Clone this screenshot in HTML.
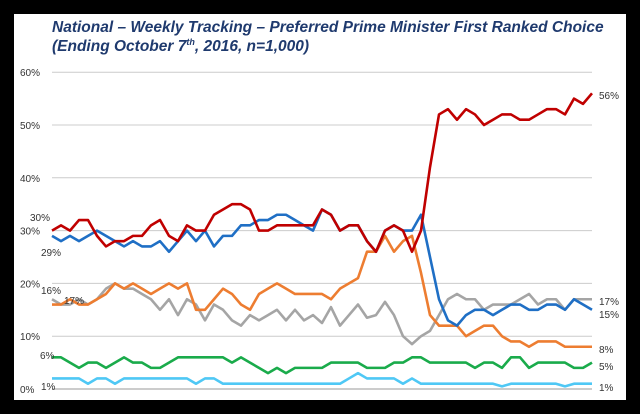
<!DOCTYPE html>
<html><head><meta charset="utf-8"><style>
body{margin:0;background:#000;width:640px;height:414px;overflow:hidden;font-family:"Liberation Sans",sans-serif}
#panel{position:absolute;left:14px;top:14px;width:612px;height:386px;background:#fff}
.title{position:absolute;left:38px;font-style:italic;font-weight:bold;color:#1f3a6e;font-size:15.5px;white-space:nowrap}
svg{position:absolute;left:0;top:0}
</style></head><body>
<div id="panel"></div>
<div class="title" style="left:52px;top:19px">National – Weekly Tracking – Preferred Prime Minister First Ranked Choice</div>
<div class="title" style="left:52px;top:37px">(Ending October 7<sup style="font-size:9px">th</sup>, 2016, n=1,000)</div>
<svg id="chart" width="640" height="414"></svg>
<script>
const ticks=[0,10,20,30,40,50,60];
const red=[30,31,30,32,32,29,27,28,28,29,29,31,32,29,28,31,30,30,33,34,35,35,34,30,30,31,31,31,31,31,34,33,30,31,31,28,26,30,31,30,26,30,42,52,53,51,53,52,50,51,52,52,51,51,52,53,53,52,55,54,56];
const blue=[29,28,29,28,29,30,29,28,27,28,27,27,28,26,28,30,28,30,27,29,29,31,31,32,32,33,33,32,31,30,34,33,30,31,31,28,26,30,31,30,30,33,25,17,13,12,14,15,15,14,15,16,16,15,15,16,16,15,17,16,15];
const orange=[16,16,17,16,16,17,18,20,19,20,19,18,19,20,19,20,15,15,17,19,18,16,15,18,19,20,19,18,18,18,18,17,19,20,21,26,26,29,26,28,29,22,14,12,12,12,10,11,12,12,10,9,9,8,9,9,9,8,8,8,8];
const grey=[17,16,16,17,16,17,19,20,19,19,18,17,15,17,14,17,16,13,16,15,13,12,14,13,14,15,13,15,13,14,12.5,15.5,12,14,16,13.5,14,16.5,14,10,8.5,10,11,14,17,18,17,17,15,16,16,16,17,18,16,17,17,15,17,17,17];
const green=[6,6,5,4,5,5,4,5,6,5,5,4,4,5,6,6,6,6,6,6,5,6,5,4,3,4,3,4,4,4,4,5,5,5,5,4,4,4,5,5,6,6,5,5,5,5,5,4,5,5,4,6,6,4,5,5,5,5,4,4,5];
const lightblue=[2,2,2,2,1,2,2,1,2,2,2,2,2,2,2,2,1,2,2,1,1,1,1,1,1,1,1,1,1,1,1,1,1,2,3,2,2,2,2,1,2,1,1,1,1,1,1,1,1,1,0.5,1,1,1,1,1,1,0.5,1,1,1];
const series=[[grey,'#a5a5a5','grey'],[orange,'#ed7d31','orange'],[green,'#1aab4b','green'],[lightblue,'#4fc8f5','lightblue'],[blue,'#1f6fc5','blue'],[red,'#c00000','red']];
const endLabels=[['56%',95],['17%',301],['15%',314],['8%',349],['5%',366],['1%',387]];
const startLabels=[['30%',30,217],['29%',41,252],['16%',41,290],['17%',64,300],['6%',40,355],['1%',41,386]];
const X0=52,X1=592,Y0=389,PX=5.28;
const xs=i=>X0+(X1-X0)*i/(red.length-1);
const ys=v=>Y0-v*PX;
const svg=document.getElementById('chart');const NS='http://www.w3.org/2000/svg';
function mk(t,a){const e=document.createElementNS(NS,t);for(const k in a)e.setAttribute(k,a[k]);svg.appendChild(e);return e;}
ticks.forEach(t=>{
 const l=mk('line',{x1:X0,x2:X1,y1:ys(t),y2:ys(t),stroke:t==0?'#999':'#ccc','stroke-width':1});
 
 
 const tx=mk('text',{x:20,y:ys(t)+4,'font-size':10,fill:'#333'});tx.textContent=t+'%';
 
 
});
series.forEach(([d,c,n])=>{
 const p=mk('polyline',{points:d.map((v,i)=>xs(i)+','+ys(v)).join(' '),fill:'none',stroke:c,'stroke-width':2.6,'stroke-linejoin':'round'});
 
 
});
endLabels.forEach(([t,y])=>{
 const tx=mk('text',{x:599,y:y+4,'font-size':10,fill:'#333'});tx.textContent=t;
 
 
});
startLabels.forEach(([t,x,y])=>{
 const tx=mk('text',{x:x,y:y+4,'font-size':10,fill:'#333'});tx.textContent=t;
 
 
});
</script>
</body></html>
